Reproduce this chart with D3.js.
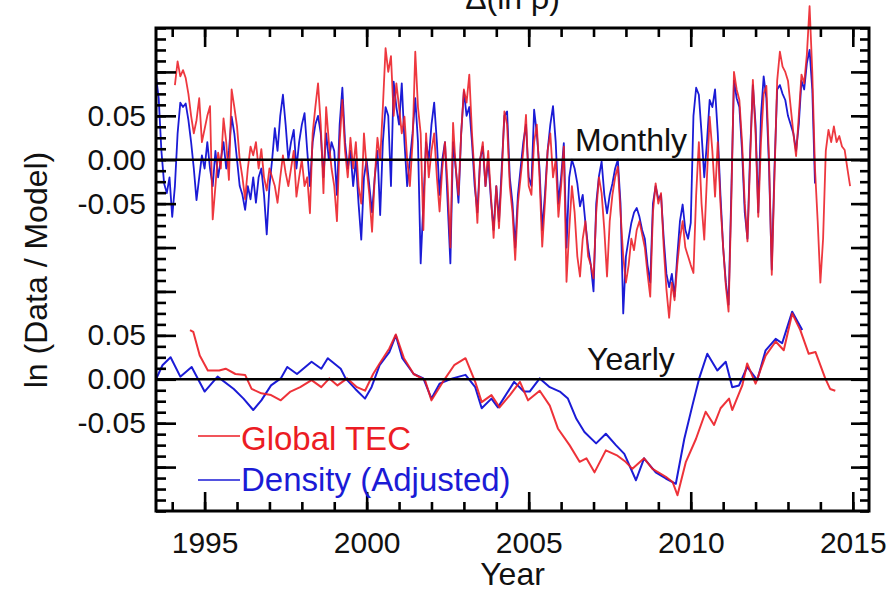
<!DOCTYPE html>
<html>
<head>
<meta charset="utf-8">
<script src="https://cdn.jsdelivr.net/npm/d3@7"></script>
<style>
body { margin: 0; background: #fff; }
svg { display: block; font-family: "Liberation Sans", Arial, sans-serif; }
</style>
</head>
<body>
<svg id="chart" width="894" height="593"></svg>
<script>
// monthly series, one value per month from the start year
var tecMonthlyStart = 1994 + 1 / 12;
var tecMonthly = [
    .085, .112, .095, .102, .093, .075, .05, .03, .045, .07, .02,
    .035, .05, .061, -.068, -.03, .008, -.01, .047, .02, -.023, .08, .06,
    .038, 0, -.02, -.045, -.01, .015, .005, .02, -.01, .012, -.02, -.035,
    -.01, -.02, -.03, -.049, -.02, .005, -.015, -.03, -.01, .01, -.042, -.02,
    0, -.03, -.02, -.061, .03, .06, .087, .04, -.038, .06, .02, -.01,
    -.03, -.07, .02, .068, .01, -.02, .025, -.01, .02, -.03, -.05, .03,
    -.01, -.04, -.082, -.02, .025, 0, .06, .127, .1, .118, .05, .087,
    .06, .03, .049, 0, -.03, .02, .123, .06, .03, -.08, .03, -.02,
    .01, .03, -.02, -.059, -.01, .02, -.03, -.1, .042, -.01, -.04, .03,
    .08, .065, .097, .03, -.02, -.072, 0, .02, -.03, .01, -.04, -.089,
    -.03, -.078, -.019, .055, .04, -.03, -.06, -.114, -.05, -.02, .01, .051,
    -.03, -.04, .02, .04, -.02, -.099, -.05, .01, .03, -.02, 0, -.065,
    -.03, .015, -.139, -.08, -.03, -.06, -.11, -.133, -.09, -.07, -.11, -.12,
    -.135, -.06, -.02, -.038, -.08, -.133, -.07, -.04, -.02, -.008, -.06, -.11,
    -.14, -.12, -.09, -.103, -.08, -.07, -.085, -.1, -.13, -.156, -.06, -.027,
    -.05, -.038, -.1, -.148, -.18, -.14, -.16, -.12, -.09, -.07, -.1, -.11,
    -.12, -.129, -.04, .02, -.05, -.091, -.02, .049, .01, -.042, .02, -.05,
    -.1, -.144, -.173, -.05, .1, .08, .068, .02, -.05, -.093, 0, .091,
    .03, -.065, .02, .075, .084, 0, -.131, -.02, .09, .123, .106, .1,
    .09, .06, .03, .004, .05, .097, .087, .12, .175, .1, -.01, -.07,
    -.14, -.09, .01, .034, .02, .038, .02, .027, .015, .011, -.01, -.03
];
var densMonthlyStart = 1993.5;
var densMonthly = [
    .095, .07, .01, -.027, -.038, -.02, -.065, -.03, .03, .065, .06, .064,
    .045, .02, -.01, -.046, -.02, .005, -.01, .02, -.01, -.03, .01, -.02,
    0, .02, -.01, .01, .049, .03, 0, -.03, -.04, -.057, -.03, -.045,
    -.02, -.049, -.02, -.01, -.04, -.085, -.03, 0, .036, .01, .05, .074,
    .04, 0, .02, .034, -.01, .02, .04, .053, .01, -.03, .02, .04,
    .05, .03, -.02, .03, 0, .02, .01, -.04, .04, .082, .02, -.01,
    .01, -.03, 0, -.05, -.091, -.02, 0, -.03, -.06, -.02, .01, -.063,
    .02, .06, .05, -.03, .089, .06, .04, .087, .02, -.03, 0, .03,
    .07, .02, -.118, -.05, .02, 0, .04, .065, .02, -.04, 0, .02,
    -.05, -.118, .02, -.01, -.049, .03, .078, .05, .06, .02, -.03, -.06,
    0, .015, -.03, 0, -.045, -.08, -.03, -.07, -.01, .05, .055, -.02,
    -.05, -.1, -.04, -.01, .02, .04, -.02, -.03, .057, .03, -.01, -.08,
    -.04, .01, .04, .061, .02, -.05, -.02, .019, -.1, -.02, 0, -.01,
    -.027, -.053, -.04, -.072, -.1, -.12, -.15, -.05, -.019, -.002, -.04, -.061,
    -.04, -.027, -.01, 0, -.05, -.175, -.11, -.09, -.072, -.06, -.055, -.065,
    -.08, -.09, -.12, -.14, -.05, -.03, -.045, -.04, -.09, -.13, -.145, -.13,
    -.156, -.11, -.07, -.051, -.08, -.09, -.072, .05, .082, .074, .03, -.02,
    .02, .068, .06, .08, .03, -.04, -.1, -.14, -.165, -.04, .09, .07,
    .06, .01, -.06, -.09, .01, .085, .04, -.06, .05, .095, .07, -.01,
    -.125, -.01, .08, .085, .075, .068, .05, .04, .03, .01, .04, .09,
    .08, .11, .125, .08, -.027
];

// yearly running means (year, value)
var tecYearlyT = [1994.55, 1994.65, 1994.85, 1995.1, 1995.45, 1995.65, 1995.95, 1996.25, 1996.45, 1996.75,
    1997.05, 1997.35, 1997.65, 1997.95, 1998.3, 1998.6, 1998.85, 1999.1, 1999.4, 1999.7,
    1999.95, 2000.2, 2000.4, 2000.7, 2000.9, 2001.15, 2001.45, 2001.8, 2002.0, 2002.35,
    2002.7, 2003.05, 2003.35, 2003.55, 2003.85, 2004.1, 2004.42, 2004.73, 2004.98, 2005.34,
    2005.65, 2005.9, 2006.26, 2006.57, 2006.78, 2007.03, 2007.38, 2007.74, 2007.99, 2008.2,
    2008.56, 2008.82, 2009.23, 2009.44, 2009.59, 2009.85, 2010.16, 2010.46, 2010.72, 2010.92,
    2011.18, 2011.28, 2011.59, 2011.74, 2012.0, 2012.31, 2012.62, 2012.87, 2013.13, 2013.38,
    2013.64, 2013.85, 2014.15, 2014.3, 2014.46];
var tecYearlyV = [.056, .054, .027, .01, .01, .012, .006, .005, -.011, -.016,
    -.018, -.024, -.014, -.009, -.001, -.009, .001, -.007, .001, -.009,
    -.013, .006, .018, .035, .051, .024, .006, -.001, -.024, -.003,
    .016, .024, -.003, -.026, -.018, -.032, -.018, -.003, -.024, -.013,
    -.03, -.056, -.075, -.094, -.09, -.106, -.081, -.087, -.094, -.102,
    -.09, -.102, -.111, -.117, -.132, -.094, -.068, -.037, -.052, -.033,
    -.022, -.035, -.007, .018, -.005, .027, .043, .033, .075, .056,
    .029, .031, .001, -.011, -.013];
var densYearlyT = [1993.5, 1993.7, 1993.95, 1994.25, 1994.6, 1995.0, 1995.4, 1995.9, 1996.2, 1996.5,
    1996.75, 1997.05, 1997.35, 1997.55, 1997.85, 1998.3, 1998.6, 1998.8, 1999.2, 1999.35,
    1999.65, 1999.95, 2000.15, 2000.4, 2000.7, 2000.9, 2001.1, 2001.45, 2001.75, 2002.0,
    2002.25, 2002.65, 2003.05, 2003.35, 2003.55, 2003.85, 2004.05, 2004.55, 2004.85, 2005.03,
    2005.34, 2005.65, 2005.96, 2006.21, 2006.47, 2006.72, 2007.08, 2007.38, 2007.69, 2007.95,
    2008.31, 2008.56, 2008.92, 2009.23, 2009.54, 2009.8, 2010.05, 2010.26, 2010.51, 2010.82,
    2011.08, 2011.28, 2011.49, 2011.74, 2012.05, 2012.31, 2012.62, 2012.82, 2013.13, 2013.44];
var densYearlyV = [0, .016, .025, .003, .014, -.014, .003, -.011, -.022, -.035,
    -.024, -.007, .001, .014, .006, .02, .012, .024, .012, .001,
    -.011, -.022, -.009, .016, .031, .05, .024, .006, .001, -.022,
    -.005, .001, .005, -.009, -.033, -.022, -.032, -.003, -.014, -.014,
    .001, -.009, -.014, -.022, -.045, -.06, -.073, -.062, -.075, -.085,
    -.115, -.09, -.106, -.113, -.119, -.068, -.03, .001, .029, .01,
    .02, -.009, -.007, .014, -.001, .033, .046, .041, .077, .056];

var xLabelYears = [1995, 2000, 2005, 2010, 2015];
var yLabelVals = [0.05, 0, -0.05, -0.2, -0.25, -0.3];
var yTickLabels = ["0.05", "0.00", "-0.05", "0.05", "0.00", "-0.05"];
var yearlyOffset = -0.25;

var red = "#ec1c24";
var blue = "#1b1bd6";
var ink = "#111";

var margin = { top: 28, right: 25, bottom: 82, left: 156 };
var width = 894 - margin.left - margin.right;
var height = 593 - margin.top - margin.bottom;

var svg = d3.select("#chart");
var g = svg.append("g").attr("transform", "translate(" + margin.left + "," + margin.top + ")");

var x = d3.scaleLinear().domain([1993.5, 2015.5]).range([0, width]);
var y = d3.scaleLinear().domain([-0.40, 0.15]).range([height, 0]);

function monthly(values, start) {
    return values.map(function(v, i) {
        return { t: start + i / 12, v: v };
    });
}

function yearly(ts, vs) {
    return ts.map(function(t, i) {
        return { t: t, v: vs[i] + yearlyOffset };
    });
}

var line = d3.line()
    .x(function(d) { return x(d.t); })
    .y(function(d) { return y(d.v); });

g.append("path").attr("d", line(monthly(densMonthly, densMonthlyStart)))
    .attr("fill", "none").attr("stroke", blue).attr("stroke-width", 1.8).attr("stroke-linejoin", "round");
g.append("path").attr("d", line(monthly(tecMonthly, tecMonthlyStart)))
    .attr("fill", "none").attr("stroke", red).attr("stroke-width", 1.8).attr("stroke-opacity", 0.88).attr("stroke-linejoin", "round");
g.append("path").attr("d", line(yearly(densYearlyT, densYearlyV)))
    .attr("fill", "none").attr("stroke", blue).attr("stroke-width", 2).attr("stroke-linejoin", "round");
g.append("path").attr("d", line(yearly(tecYearlyT, tecYearlyV)))
    .attr("fill", "none").attr("stroke", red).attr("stroke-width", 2).attr("stroke-opacity", 0.9).attr("stroke-linejoin", "round");

// zero lines of both panels
[0, yearlyOffset].forEach(function(z) {
    g.append("line").attr("x1", 0).attr("x2", width).attr("y1", y(z)).attr("y2", y(z))
        .attr("stroke", "#000").attr("stroke-width", 2.5);
});

// inward ticks on all four sides
var yearTicks = d3.range(1994, 2016);
var yMinor = d3.range(-0.4, 0.1501, 0.0125);
var yMajor = d3.range(-0.35, 0.1001, 0.05);

function ticks(axis, tx, ty) {
    var a = g.append("g").attr("transform", "translate(" + tx + "," + ty + ")").call(axis);
    a.select(".domain").remove();
    a.selectAll("line").attr("stroke", "#000").attr("stroke-width", 2.6);
    return a;
}
ticks(d3.axisBottom(x).tickValues(yearTicks).tickSize(-9).tickFormat(""), 0, height);
ticks(d3.axisBottom(x).tickValues(xLabelYears).tickSize(-19).tickFormat(""), 0, height);
ticks(d3.axisTop(x).tickValues(yearTicks).tickSize(-9).tickFormat(""), 0, 0);
ticks(d3.axisTop(x).tickValues(xLabelYears).tickSize(-19).tickFormat(""), 0, 0);
ticks(d3.axisLeft(y).tickValues(yMinor).tickSize(-10).tickFormat(""), 0, 0);
ticks(d3.axisLeft(y).tickValues(yMajor).tickSize(-20).tickFormat(""), 0, 0);
ticks(d3.axisRight(y).tickValues(yMinor).tickSize(-9).tickFormat(""), width, 0);
ticks(d3.axisRight(y).tickValues(yMajor).tickSize(-18).tickFormat(""), width, 0);

g.append("rect").attr("width", width).attr("height", height)
    .attr("fill", "none").attr("stroke", "#000").attr("stroke-width", 3);

// tick labels
var xl = g.append("g").attr("transform", "translate(0," + height + ")")
    .call(d3.axisBottom(x).tickValues(xLabelYears).tickSize(0).tickPadding(21).tickFormat(d3.format("d")));
xl.select(".domain").remove();
xl.selectAll("text").attr("font-size", 30).attr("font-family", "Liberation Sans, Arial, sans-serif").attr("fill", ink);

var yl = g.append("g")
    .call(d3.axisLeft(y).tickValues(yLabelVals).tickSize(0).tickPadding(10).tickFormat(function(d, i) { return yTickLabels[i]; }));
yl.select(".domain").remove();
yl.selectAll("text").attr("font-size", 30).attr("font-family", "Liberation Sans, Arial, sans-serif").attr("fill", ink);

function label(txt, px, py, color, anchor, size) {
    return svg.append("text").attr("x", px).attr("y", py).attr("font-size", size || 32)
        .attr("fill", color).attr("text-anchor", anchor || "start").text(txt);
}

label("Δ(ln ρ)", margin.left + width / 2, 9, ink, "middle");
label("Monthly", 575, 151, ink);
label("Yearly", 587, 370, ink);
label("Year", margin.left + width / 2, 585, ink, "middle");
svg.append("text").attr("transform", "translate(47,270) rotate(-90)")
    .attr("text-anchor", "middle").attr("font-size", 32).attr("fill", ink)
    .text("ln (Data / Model)");

// legend
var legend = [{ name: "Global TEC", color: red, ly: 436, ty: 450 },
              { name: "Density (Adjusted)", color: blue, ly: 480, ty: 491 }];
legend.forEach(function(d) {
    svg.append("line").attr("x1", 198).attr("x2", 240).attr("y1", d.ly).attr("y2", d.ly)
        .attr("stroke", d.color).attr("stroke-width", 1.6);
    label(d.name, 241, d.ty, d.color, "start", 33);
});
</script>
</body>
</html>
